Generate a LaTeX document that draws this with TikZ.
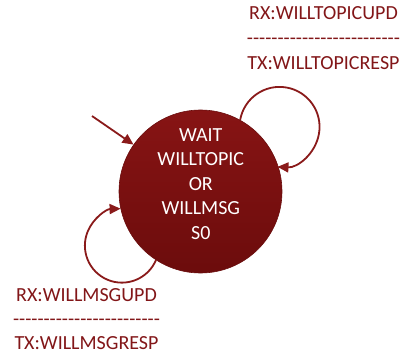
\documentclass[tikz,border=0pt]{standalone}
\usepackage{fontspec}
\setmainfont{Carlito}
\usetikzlibrary{arrows.meta}
\definecolor{stateTop}{HTML}{871414}
\definecolor{stateBottom}{HTML}{6C0C0C}
\definecolor{stateEdge}{HTML}{6A0D0D}
\definecolor{arrowred}{HTML}{8A1A1A}
\definecolor{labelred}{HTML}{821618}
% a row of separate hyphens (kerns keep them from joining into dashes)
\newcommand\hyphenrow[1]{\foreach\i in {1,...,#1}{-\kern0pt}}
\begin{document}
\begin{tikzpicture}[x=1pt,y=1pt,
  every node/.style={inner sep=0pt, font=\fontsize{20}{24.5}\selectfont},
  state/.style={circle, minimum size=163pt, top color=stateTop, bottom color=stateBottom,
    draw=stateEdge, line width=0.6pt},
  trans/.style={draw=arrowred, line width=1.8pt, -{Triangle[length=11pt,width=10pt]}},
  lbl/.style={text=labelred, align=center}]
\useasboundingbox (0,0) rectangle (406,356);
% state
\node[state] (st) at (200.5,164.5) {};
\node[text=white, align=center] (stname) at (200.8,172) {WAIT\\WILLTOPIC\\OR\\WILLMSG\\S0};
% initial transition
\coordinate (init) at (92,240);
\draw[trans] (init) -- (st.145);
% self loops
\draw[trans] (st.61) arc[start angle=170, end angle=-93, radius=40];
\draw[trans] (st.237) arc[start angle=-23, end angle=-268, radius=37];
% transition labels
\node[lbl, font=\fontsize{20}{25}\selectfont] (topiclbl) at (323.5,317.5)
  {RX:WILLTOPICUPD\\\hyphenrow{25}\\TX:WILLTOPICRESP};
\node[lbl, font=\fontsize{20}{23.7}\selectfont] (msglbl) at (86.5,37)
  {RX:WILLMSGUPD\\\hyphenrow{24}\\TX:WILLMSGRESP};
\end{tikzpicture}
\end{document}
